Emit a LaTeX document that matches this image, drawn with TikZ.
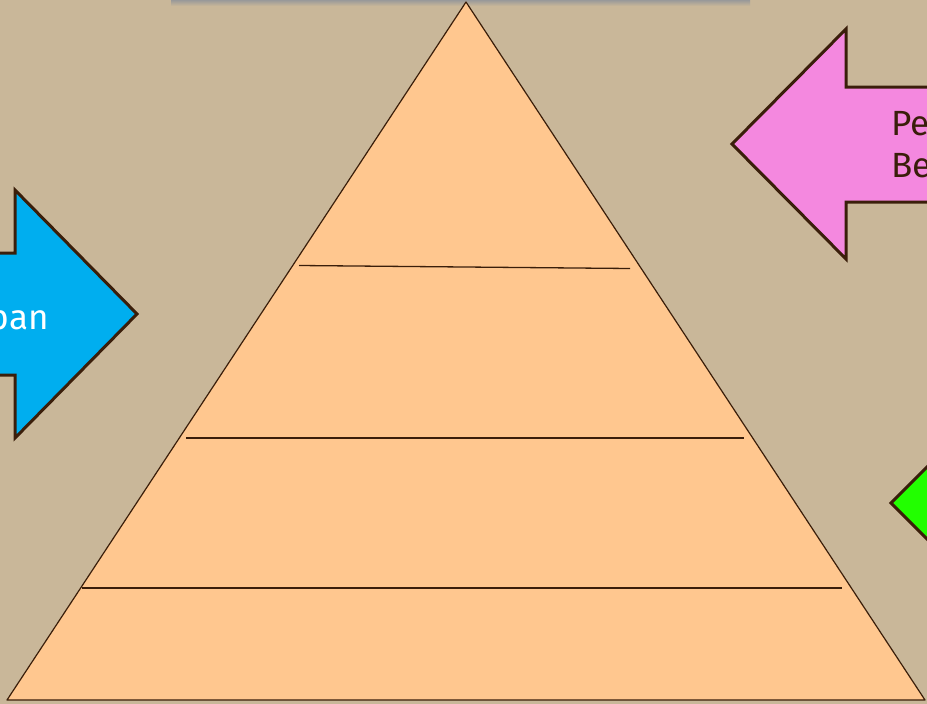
\documentclass[tikz,border=0pt]{standalone}
\usepackage{fontspec}
\setmainfont{Fira Sans}
\usepackage{tikz}
\usetikzlibrary{calc}
\definecolor{paper}{RGB}{201,183,153}
\definecolor{peach}{RGB}{255,199,143}
\definecolor{edgedark}{RGB}{58,30,10}
\definecolor{skyblue}{RGB}{0,174,239}
\definecolor{rosepink}{RGB}{244,136,223}
\definecolor{limegreen}{RGB}{34,255,0}

\begin{document}
\begin{tikzpicture}[x=1pt, y=-1pt,
 tierline/.style={draw=edgedark, line width=1.3pt},
 signarrow/.style={draw=edgedark, line width=3pt, line join=miter},
 signtext/.style={font=\fontsize{35}{42}\selectfont, inner sep=0pt, align=left}
]
\useasboundingbox[fill=paper] (0,0) rectangle (927,704);
% shadow of the title bar along the top edge
\shade[top color=black!40, bottom color=paper] (171,0) rectangle (750,6);
% the pyramid and its tiers
\coordinate (apex) at (466,2);
\coordinate (baseL) at (7,700);
\coordinate (baseR) at (925,700);
\draw[fill=peach, draw=edgedark, line width=1.2pt, line join=round]
  (apex) -- (baseL) -- (baseR) -- cycle;
\draw[tierline] (299,265.5) -- (630,268.5);
\draw[tierline] (186,438) -- (744,438);
\draw[tierline] (82,588) -- (842,588);
% blue arrow, pointing right
\draw[signarrow, fill=skyblue] (-250,253) -- (15,253) -- (15,190) -- (137,314)
  -- (15,438) -- (15,375) -- (-250,375) -- cycle;
\node[signtext, text=white, anchor=base east] (bluetext) at (49,329) {pan};
% pink arrow, pointing left
\draw[signarrow, fill=rosepink] (1150,87) -- (846,87) -- (846,29) -- (732,144)
  -- (846,259) -- (846,202) -- (1150,202) -- cycle;
\node[signtext, text=edgedark, anchor=base west] (pinktext) at (891,177) {Pe\\Be};
% green arrow, pointing left
\draw[signarrow, fill=limegreen] (1250,446) -- (1006,446) -- (1006,388) -- (891,503)
  -- (1006,618) -- (1006,560) -- (1250,560) -- cycle;
\end{tikzpicture}
\end{document}
